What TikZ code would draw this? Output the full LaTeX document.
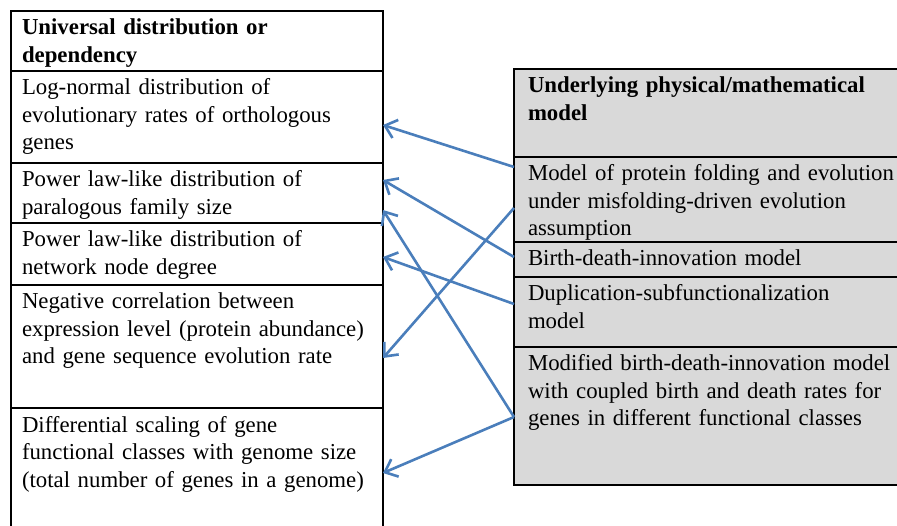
\documentclass[tikz,border=0pt]{standalone}
\usepackage{fontspec}
\setmainfont{Liberation Serif}
\usetikzlibrary{positioning,arrows.meta}
\definecolor{linkblue}{RGB}{74,126,187}
\definecolor{modelgray}{RGB}{217,217,217}

\begin{document}
\begin{tikzpicture}[x=1pt, y=-1pt, node distance=0pt,
    cellbox/.style={draw, line width=1.6pt, outer sep=0pt, inner xsep=11pt, inner ysep=0pt,
      text height=24pt, align=left, font={\fontsize{22.8}{27.5}\selectfont}},
    leftcell/.style={cellbox, text width=350pt},
    rightcell/.style={cellbox, fill=modelgray, inner xsep=14pt, text width=372pt},
    link/.style={linkblue, line width=2.6pt, line join=round,
      -{Straight Barb[length=11pt, width=19pt]}}]
    \useasboundingbox (0,0) rectangle (897,526);
    \clip (0,0) rectangle (897,526);

    % universal distributions
    \node[leftcell, anchor=north west, text depth=36pt] (d0) at (11,11)
        {\textbf{Universal distribution or}\\\textbf{dependency}};
    \node[leftcell, below=of d0, text depth=68pt] (d1)
        {Log-normal distribution of\\evolutionary rates of orthologous\\genes};
    \node[leftcell, below=of d1, text depth=36pt] (d2)
        {Power law-like distribution of\\paralogous family size};
    \node[leftcell, below=of d2, text depth=38pt] (d3)
        {Power law-like distribution of\\network node degree};
    \node[leftcell, below=of d3, text depth=99pt] (d4)
        {Negative correlation between\\expression level (protein abundance)\\and gene sequence evolution rate};
    \node[leftcell, below=of d4, text depth=108pt] (d5)
        {Differential scaling of gene\\functional classes with genome size\\(total number of genes in a genome)};

    % underlying models
    \node[rightcell, anchor=north west, text depth=64pt] (m0) at (514,69)
        {\textbf{Underlying physical/mathematical}\\\textbf{model}};
    \node[rightcell, below=of m0, text depth=61pt] (m1)
        {Model of protein folding and evolution\\under misfolding-driven evolution\\assumption};
    \node[rightcell, below=of m1, text depth=11pt] (m2)
        {Birth-death-innovation model};
    \node[rightcell, below=of m2, text depth=46pt] (m3)
        {Duplication-subfunctionalization\\model};
    \node[rightcell, below=of m3, text depth=114pt] (m4)
        {Modified birth-death-innovation model\\with coupled birth and death rates for\\genes in different functional classes};

    \draw[link] ([yshift=32.5pt]m1.west) -- ([yshift=-8pt]d1.east);
    \draw[link] ([yshift=2.5pt]m2.west) -- ([yshift=13pt]d2.east);
    \draw[link] ([yshift=-8.5pt]m1.west) -- ([yshift=-11.5pt]d4.east);
    \draw[link] ([yshift=8pt]m3.west) -- ([yshift=-3pt]d3.east);
    \draw[link] ([yshift=-1pt]m4.west) -- ([yshift=-17pt]d2.east);
    \draw[link] ([yshift=-1pt]m4.west) -- ([yshift=1pt]d5.east);
\end{tikzpicture}
\end{document}
